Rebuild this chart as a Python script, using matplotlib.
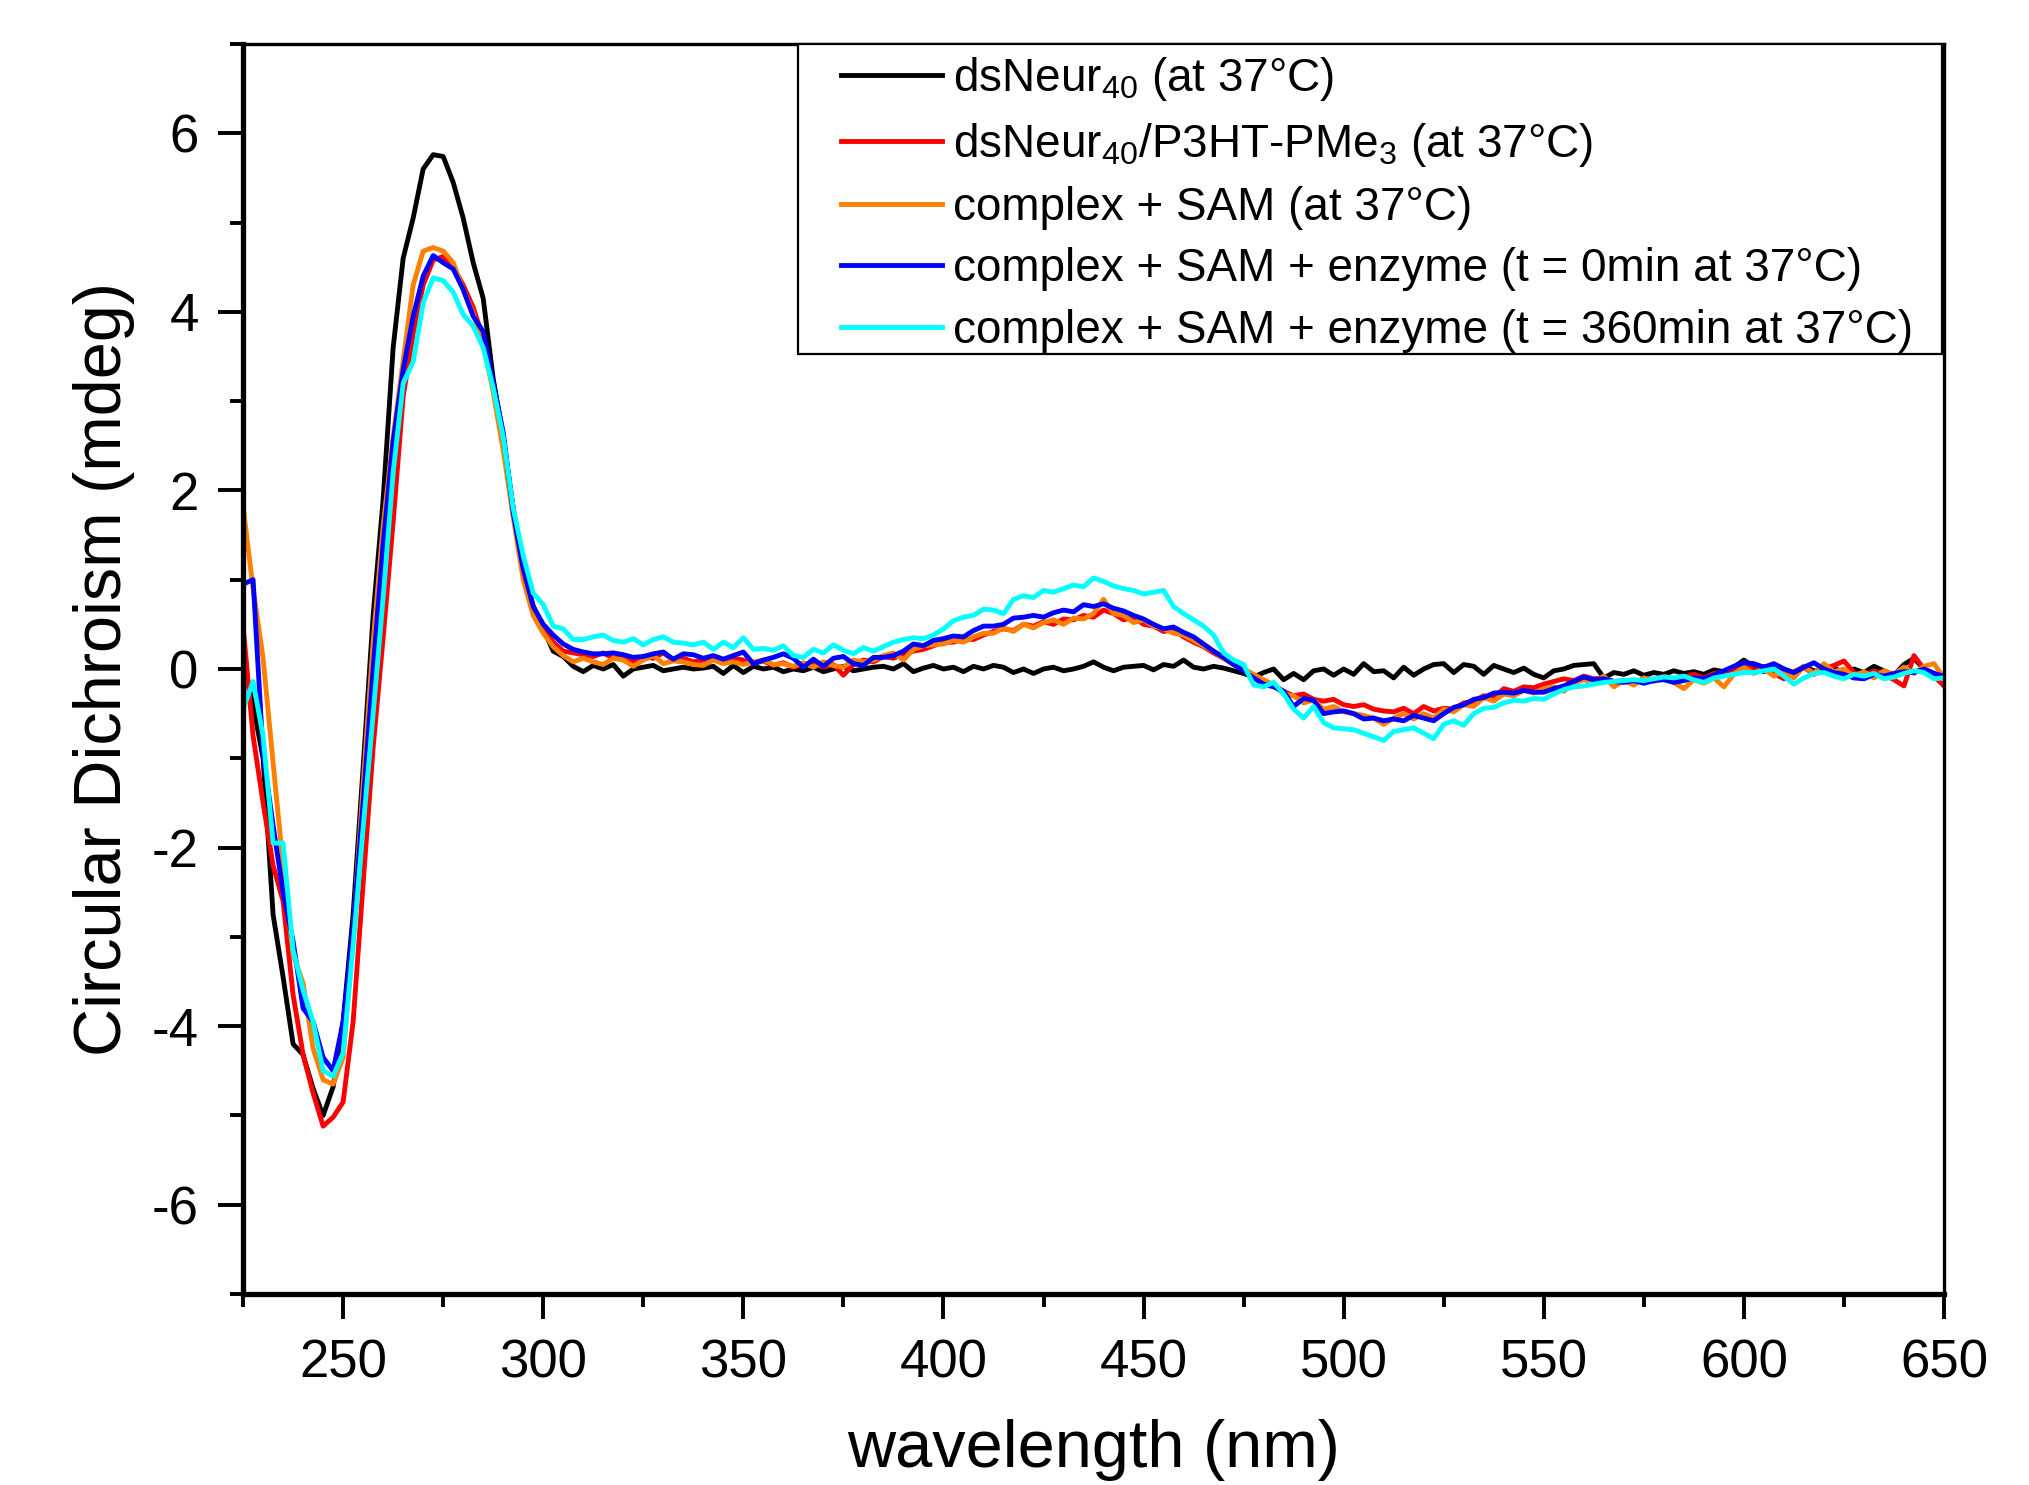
import numpy as np
import matplotlib
matplotlib.use("Agg")
import matplotlib.pyplot as plt
from matplotlib.ticker import MultipleLocator
from matplotlib.patches import Rectangle

plt.rcParams['font.family'] = ['Liberation Sans', 'DejaVu Sans']
plt.rcParams['axes.unicode_minus'] = False

# wavelength grid (nm), 2.5 nm steps from 225 to 650
wavelength = np.arange(225.0, 650.1, 2.5)

# CD values (mdeg), one row of 10 = 25 nm
ds_neur = [
    0.1, -0.4, -1.0, -2.75, -3.45, -4.2, -4.32, -4.7, -5.0, -4.68,
    -3.95, -2.75, -1.1, 0.6, 1.9, 3.6, 4.6, 5.05, 5.6, 5.76,
    5.74, 5.45, 5.05, 4.55, 4.15, 3.25, 2.6, 1.8, 1.1, 0.7,
    0.45, 0.2, 0.14, 0.03, -0.03, 0.04, 0.0, 0.05, -0.08, 0.0,
    0.02, 0.04, -0.02, 0.0, 0.02, 0.0, 0.01, 0.03, -0.05, 0.04,
    -0.04, 0.03, 0.0, 0.02, -0.03, 0.0, -0.02, 0.02, -0.03, 0.0,
    0.03, -0.02, 0.0, 0.02, 0.03, 0.0, 0.06, -0.03, 0.01, 0.04,
    0.0, 0.02, -0.03, 0.03, 0.0, 0.04, 0.02, -0.04, 0.0, -0.05,
    0.0, 0.02, -0.02, 0.0, 0.03, 0.08, 0.02, -0.02, 0.02, 0.03,
    0.04, -0.01, 0.05, 0.03, 0.1, 0.02, 0.0, 0.03, 0.01, -0.02,
    -0.05, -0.09, -0.04, 0.0, -0.12, -0.05, -0.12, -0.02, 0.0, -0.07,
    0.0, -0.06, 0.06, -0.03, -0.02, -0.1, 0.02, -0.07, 0.0, 0.05,
    0.06, -0.04, 0.05, 0.03, -0.06, 0.04, 0.0, -0.04, 0.01, -0.06,
    -0.1, -0.02, 0.0, 0.04, 0.05, 0.06, -0.1, -0.04, -0.06, -0.02,
    -0.07, -0.04, -0.06, -0.02, -0.05, -0.03, -0.06, -0.01, -0.03, 0.02,
    0.1, 0.02, -0.03, 0.05, 0.0, -0.05, 0.03, -0.02, -0.03, 0.02,
    -0.06, 0.0, -0.04, 0.03, -0.02, -0.07, 0.05, 0.12, 0.0, -0.05,
    -0.1,
]

ds_neur_p3ht = [
    0.48, -0.75, -1.5, -2.2, -2.6, -3.65, -4.32, -4.75, -5.12, -5.02,
    -4.85, -3.95, -2.4, -0.88, 0.35, 1.65, 3.05, 3.75, 4.3, 4.58,
    4.62, 4.5, 4.3, 4.05, 3.7, 3.15, 2.5, 1.8, 1.1, 0.7,
    0.45, 0.3, 0.2, 0.18, 0.16, 0.14, 0.18, 0.12, 0.15, 0.08,
    0.14, 0.12, 0.18, 0.1, 0.12, 0.08, 0.1, 0.13, 0.07, 0.12,
    0.1, 0.06, 0.09, 0.04, 0.07, 0.02, 0.05, 0.06, 0.02, 0.05,
    -0.07, 0.05, 0.1, 0.08, 0.14, 0.12, 0.17, 0.2, 0.22, 0.26,
    0.3, 0.3, 0.34, 0.33, 0.38, 0.42, 0.45, 0.43, 0.5, 0.48,
    0.53, 0.5, 0.56, 0.55, 0.6, 0.58, 0.66, 0.62, 0.55, 0.58,
    0.5, 0.48, 0.42, 0.44, 0.36, 0.3, 0.25, 0.18, 0.12, 0.05,
    0.0, -0.08, -0.14, -0.18, -0.25, -0.3, -0.28, -0.34, -0.36, -0.34,
    -0.4, -0.42, -0.4, -0.45, -0.47, -0.48, -0.44, -0.5, -0.42, -0.47,
    -0.44, -0.45, -0.38, -0.36, -0.3, -0.32, -0.22, -0.25, -0.2, -0.21,
    -0.17, -0.14, -0.11, -0.13, -0.08, -0.11, -0.1, -0.14, -0.13, -0.17,
    -0.1, -0.12, -0.08, -0.11, -0.09, -0.06, -0.1, -0.05, -0.04, 0.0,
    0.07, -0.02, 0.03, -0.05, -0.11, -0.03, 0.02, -0.06, 0.0, 0.04,
    0.09, -0.04, -0.08, -0.02, -0.06, -0.12, -0.19, 0.15, 0.0, -0.08,
    -0.19,
]

complex_sam = [
    1.82, 0.9, 0.12, -1.05, -2.2, -3.2, -3.52, -4.25, -4.6, -4.65,
    -4.35, -2.95, -1.3, 0.3, 1.6, 2.6, 3.45, 4.3, 4.68, 4.72,
    4.68, 4.55, 4.25, 3.98, 3.65, 3.1, 2.45, 1.7, 1.0, 0.6,
    0.4, 0.25, 0.15, 0.08, 0.12, 0.08, 0.05, 0.12, 0.1, 0.03,
    0.1, 0.15, 0.06, 0.09, 0.08, 0.05, 0.04, 0.1, 0.06, 0.08,
    0.05, 0.08, 0.1, 0.05, 0.06, 0.03, 0.07, 0.02, 0.08, 0.04,
    0.02, 0.1, 0.08, 0.1, 0.15, 0.18, 0.1, 0.22, 0.26, 0.27,
    0.28, 0.32, 0.3, 0.36, 0.4, 0.4, 0.46, 0.42, 0.5, 0.46,
    0.52, 0.55, 0.5, 0.57, 0.56, 0.62, 0.78, 0.62, 0.6, 0.52,
    0.55, 0.48, 0.45, 0.4, 0.38, 0.32, 0.26, 0.2, 0.12, 0.05,
    0.0, -0.06, -0.12, -0.18, -0.28, -0.3, -0.38, -0.35, -0.45, -0.42,
    -0.48, -0.5, -0.52, -0.55, -0.62, -0.55, -0.5, -0.56, -0.5, -0.55,
    -0.45, -0.48, -0.4, -0.42, -0.32, -0.36, -0.28, -0.3, -0.24, -0.27,
    -0.22, -0.2, -0.25, -0.16, -0.12, -0.15, -0.08, -0.2, -0.13, -0.18,
    -0.1, -0.14, -0.1, -0.15, -0.22, -0.12, -0.16, -0.1, -0.2, -0.06,
    0.02, -0.05, 0.0, -0.08, -0.02, -0.1, 0.03, -0.05, 0.06, -0.03,
    0.0, -0.08, -0.03, -0.1, -0.02, -0.06, 0.02, -0.05, 0.03, 0.06,
    -0.1,
]

enzyme_t0 = [
    0.95, 1.0, -0.95, -1.75, -2.5, -3.05, -3.8, -3.95, -4.35, -4.5,
    -3.95, -2.9, -1.5, 0.0, 1.4, 2.55, 3.35, 3.95, 4.4, 4.63,
    4.55, 4.48, 4.25, 3.95, 3.78, 3.2, 2.65, 1.75, 1.12, 0.7,
    0.5, 0.38, 0.28, 0.22, 0.19, 0.17, 0.17, 0.18, 0.16, 0.13,
    0.14, 0.17, 0.19, 0.11, 0.17, 0.16, 0.12, 0.15, 0.11, 0.15,
    0.19, 0.06, 0.1, 0.13, 0.17, 0.12, 0.02, 0.11, 0.03, 0.12,
    0.14, 0.06, 0.04, 0.13, 0.13, 0.15, 0.2, 0.28, 0.26, 0.32,
    0.34, 0.37, 0.36, 0.43, 0.48, 0.48, 0.5, 0.57, 0.58, 0.6,
    0.58, 0.63, 0.66, 0.64, 0.72, 0.7, 0.73, 0.68, 0.65, 0.6,
    0.56, 0.5, 0.45, 0.47, 0.41, 0.36, 0.28, 0.2, 0.13, 0.05,
    -0.02, -0.1, -0.17, -0.2, -0.25, -0.42, -0.33, -0.35, -0.5, -0.48,
    -0.47, -0.5, -0.56, -0.55, -0.58, -0.56, -0.58, -0.52, -0.55, -0.58,
    -0.5, -0.43, -0.4, -0.34, -0.32, -0.27, -0.26, -0.27, -0.24, -0.26,
    -0.26, -0.22, -0.19, -0.14, -0.09, -0.12, -0.11, -0.14, -0.15, -0.13,
    -0.16, -0.13, -0.12, -0.15, -0.13, -0.1, -0.11, -0.07, -0.02, 0.03,
    0.07, 0.06, 0.02, 0.06, 0.0, -0.04, 0.02, 0.07, 0.0, -0.04,
    -0.06, -0.1, -0.11, -0.06, -0.08, -0.05, -0.03, -0.04, 0.0, -0.05,
    -0.08,
]

enzyme_t360 = [
    -0.45, -0.14, -0.75, -1.95, -1.95, -3.15, -3.6, -3.95, -4.5, -4.56,
    -4.3, -3.1, -1.78, -0.5, 0.8, 2.2, 3.2, 3.44, 4.1, 4.38,
    4.35, 4.22, 3.97, 3.84, 3.6, 3.15, 2.6, 1.8, 1.27, 0.85,
    0.72, 0.48, 0.45, 0.33, 0.33, 0.36, 0.38, 0.32, 0.3, 0.34,
    0.27, 0.33, 0.36, 0.3, 0.29, 0.27, 0.3, 0.22, 0.3, 0.24,
    0.35, 0.22, 0.23, 0.21, 0.26, 0.15, 0.13, 0.22, 0.18, 0.27,
    0.21, 0.17, 0.24, 0.2, 0.25, 0.3, 0.33, 0.35, 0.34, 0.38,
    0.45, 0.54, 0.58, 0.6, 0.67, 0.66, 0.62, 0.78, 0.82, 0.8,
    0.88, 0.86, 0.9, 0.94, 0.92, 1.02, 0.98, 0.93, 0.9, 0.88,
    0.84, 0.86, 0.88, 0.7, 0.62, 0.55, 0.48, 0.38, 0.18, 0.1,
    0.05, -0.18, -0.2, -0.15, -0.28, -0.45, -0.55, -0.42, -0.6, -0.66,
    -0.67, -0.68, -0.72, -0.76, -0.8, -0.7, -0.68, -0.66, -0.72, -0.78,
    -0.62, -0.58, -0.63, -0.5, -0.44, -0.43, -0.38, -0.35, -0.36, -0.33,
    -0.34, -0.28, -0.23, -0.2, -0.19, -0.17, -0.15, -0.14, -0.13, -0.12,
    -0.13, -0.11, -0.09, -0.1, -0.08, -0.12, -0.15, -0.1, -0.08, -0.06,
    -0.04, -0.04, -0.02, 0.0, -0.08, -0.17, -0.1, -0.05, -0.04, -0.08,
    -0.11, -0.06, -0.08, -0.05, -0.11, -0.09, -0.05, -0.02, -0.04, -0.11,
    -0.1,
]

labels = [
    'dsNeur$\\mathregular{_{40}}$ (at 37°C)',
    'dsNeur$\\mathregular{_{40}}$/P3HT-PMe$\\mathregular{_3}$ (at 37°C)',
    'complex + SAM (at 37°C)',
    'complex + SAM + enzyme (t = 0min at 37°C)',
    'complex + SAM + enzyme (t = 360min at 37°C)',
]
colors = ['#000000', '#ff0000', '#ff8000', '#0000ff', '#00ffff']
series = [ds_neur, ds_neur_p3ht, complex_sam, enzyme_t0, enzyme_t360]

fig = plt.figure(figsize=(20.29, 14.85), dpi=100)
ax = fig.add_axes([0.1198, 0.1286, 0.8383, 0.8418])

for y, c, lab in zip(series, colors, labels):
    ax.plot(wavelength, y, color=c, lw=3.5, label=lab)

ax.set_xlim(225, 650)
ax.set_ylim(-7, 7)
ax.xaxis.set_minor_locator(MultipleLocator(25))
ax.yaxis.set_major_locator(MultipleLocator(2))
ax.yaxis.set_minor_locator(MultipleLocator(1))
ax.set_xticks([250, 300, 350, 400, 450, 500, 550, 600, 650])

ax.tick_params(which='major', direction='out', length=18, width=2.8,
               labelsize=38, pad=14, top=False, right=False)
ax.tick_params(which='minor', direction='out', length=9.5, width=2.8,
               top=False, right=False)

ax.spines['left'].set_linewidth(3.8)
ax.spines['bottom'].set_linewidth(3.8)
ax.spines['top'].set_linewidth(2.4)
ax.spines['right'].set_linewidth(2.4)

ax.set_xlabel('wavelength (nm)', fontsize=48, labelpad=22)
ax.set_ylabel('Circular Dichroism (mdeg)', fontsize=48, labelpad=12)

# legend box (drawn separately so the left margin can be wider than the others)
ax.add_patch(Rectangle((0.3263, 0.752), 0.6725, 0.248, transform=ax.transAxes,
                       facecolor='white', edgecolor='black', lw=1.6,
                       zorder=4.5, clip_on=False))

leg = ax.legend(loc='upper left', bbox_to_anchor=(0.3515, 0.991), borderaxespad=0,
                fontsize=33, frameon=False, handlelength=2.2, handletextpad=0.25,
                labelspacing=0.38, borderpad=0)
leg.set_zorder(5)
for h in leg.get_lines():
    h.set_linewidth(3.5)

fig.savefig('out.png', dpi=100)
